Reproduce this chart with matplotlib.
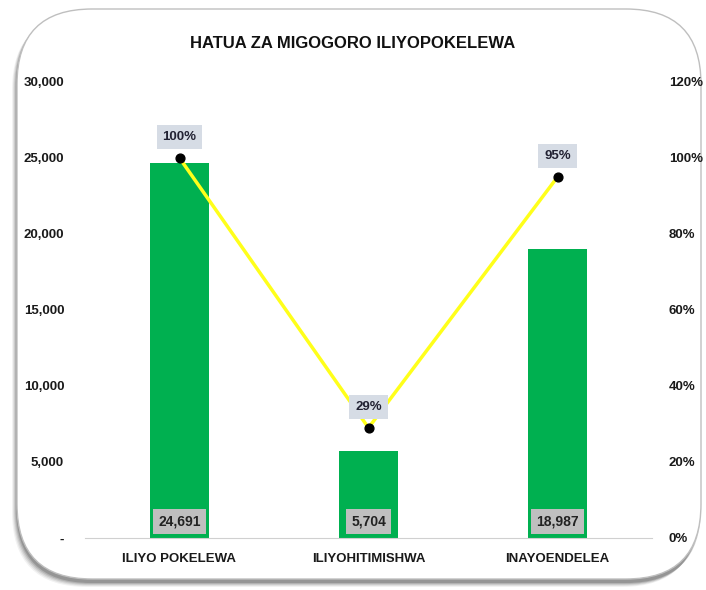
import matplotlib
matplotlib.use("Agg")
import matplotlib.pyplot as plt
from matplotlib.patches import FancyBboxPatch
from matplotlib.ticker import FuncFormatter

plt.rcParams['font.family'] = ['Liberation Sans', 'DejaVu Sans']
plt.rcParams['font.weight'] = 'bold'

TITLE = "HATUA ZA MIGOGORO ILIYOPOKELEWA"
categories = ["ILIYO POKELEWA", "ILIYOHITIMISHWA", "INAYOENDELEA"]
counts = [24691, 5704, 18987]
shares = [1.00, 0.29, 0.95]

W, H = 706, 590
fig = plt.figure(figsize=(W / 100, H / 100), dpi=100)

# background frame: rounded card with a soft shadow (pixel coords)
bg = fig.add_axes([0, 0, 1, 1], zorder=0)
bg.set_xlim(0, W); bg.set_ylim(H, 0); bg.axis("off")
for i, a in enumerate([0.05, 0.07, 0.09, 0.12, 0.16]):
    off = 5 - i
    bg.add_patch(FancyBboxPatch((15 - off + 2, 10 + off), 685, 572,
                                boxstyle="round,pad=0,rounding_size=75",
                                fc="black", ec="none", alpha=a))
bg.add_patch(FancyBboxPatch((17, 9), 684, 570, boxstyle="round,pad=0,rounding_size=75",
                            fc="white", ec="#bfbfbf", lw=1.0))

ax = fig.add_axes([85 / W, 1 - 538 / H, (652 - 85) / W, (538 - 82) / H], zorder=2)
ax.patch.set_alpha(0)
x = range(len(categories))
ax.bar(x, counts, width=0.31, color="#00B050", zorder=2)
ax.set_xlim(-0.5, 2.5)
ax.set_ylim(0, 30000)
ax.set_yticks(range(0, 30001, 5000))
ax.yaxis.set_major_formatter(FuncFormatter(lambda v, p: "-" if v == 0 else f"{int(v):,}"))
ax.set_xticks(list(x))
ax.set_xticklabels(categories)
for s in ["top", "right", "left"]:
    ax.spines[s].set_visible(False)
ax.spines["bottom"].set_color("#d0d0d0")
ax.tick_params(length=0, labelsize=9.5, colors="#1a1a1a")
ax.tick_params(axis="y", pad=15)
ax.tick_params(axis="x", pad=11)

for xi, c in zip(x, counts):
    ax.text(xi, 1100, f"{c:,}", ha="center", va="center", fontsize=10, color="#222222",
            bbox=dict(boxstyle="square,pad=0.4", fc="#bfbfbf", ec="none"), zorder=4)

ax2 = ax.twinx()
ax2.set_ylim(0, 1.2)
ax2.set_yticks([0, 0.2, 0.4, 0.6, 0.8, 1.0, 1.2])
ax2.yaxis.set_major_formatter(FuncFormatter(lambda v, p: f"{v:.0%}"))
for s in ["top", "right", "left", "bottom"]:
    ax2.spines[s].set_visible(False)
ax2.tick_params(length=0, labelsize=9.5, colors="#1a1a1a", pad=12)
ax2.plot(list(x), shares, color="#FFFF1A", lw=2.5, zorder=3)
ax2.scatter(list(x), shares, color="black", s=40, zorder=4)
for xi, sh in zip(x, shares):
    ax2.text(xi, sh + 0.055, f"{sh:.0%}", ha="center", va="center", fontsize=9.5,
             color="#222233", bbox=dict(boxstyle="square,pad=0.45", fc="#d6dce5", ec="none"),
             zorder=5)

fig.text(353 / W, 1 - 43 / H, TITLE, ha="center", va="center", fontsize=12, color="#111111")

fig.savefig("out.png", dpi=100)
